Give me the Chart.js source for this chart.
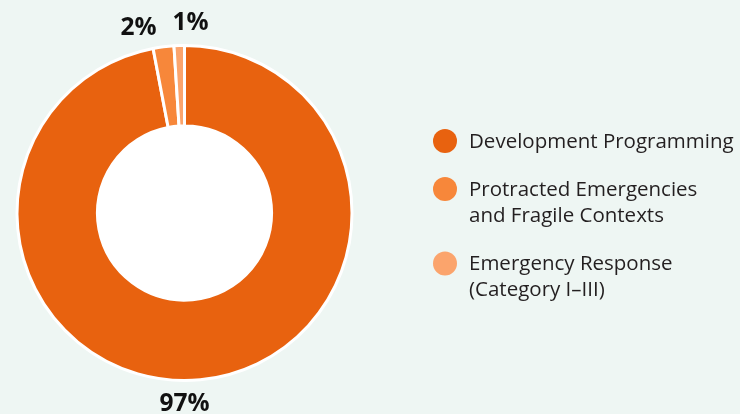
<!DOCTYPE html>
<html>
<head>
<meta charset="utf-8">
<script src="https://cdn.jsdelivr.net/npm/chart.js@4/dist/chart.umd.min.js"></script>
<style>
  html, body { margin: 0; padding: 0; background: #EEF6F3; }
  #wrap { width: 740px; height: 414px; position: relative; }
</style>
</head>
<body>
<div id="wrap"><canvas id="c" width="740" height="414"></canvas></div>
<script>
// Share of funding by programme type (percent)
const categories = [
  ['Development Programming'],
  ['Protracted Emergencies', 'and Fragile Contexts'],
  ['Emergency Response', '(Category I\u2013III)']
];
const shares = [97, 2, 1];
const sliceColors = ['#E8620F', '#F7873A', '#FBA46C'];

const FONT = '"Open Sans", "Noto Sans", sans-serif';

// White hole in the middle of the ring
const holeFill = {
  id: 'holeFill',
  beforeDatasetsDraw(chart) {
    const arc = chart.getDatasetMeta(0).data[0];
    if (!arc) return;
    const { x, y, innerRadius } = arc.getProps(['x', 'y', 'innerRadius'], true);
    const ctx = chart.ctx;
    ctx.save();
    ctx.fillStyle = '#FFFFFF';
    ctx.beginPath();
    ctx.arc(x, y, innerRadius + 1, 0, Math.PI * 2);
    ctx.fill();
    ctx.restore();
  }
};

// Percentage labels around the ring
const valueLabels = {
  id: 'valueLabels',
  afterDatasetsDraw(chart) {
    const meta = chart.getDatasetMeta(0);
    const arc0 = meta.data[0];
    const { x: cx, y: cy, outerRadius: r } = arc0.getProps(['x', 'y', 'outerRadius'], true);
    // anchor of each label relative to the ring centre
    const anchors = [
      [cx, cy + r + 24],
      [cx - 46, cy - r - 17],
      [cx + 6, cy - r - 22]
    ];
    const ctx = chart.ctx;
    ctx.save();
    ctx.fillStyle = '#111111';
    ctx.font = 'bold 24.5px ' + FONT;
    ctx.textAlign = 'center';
    ctx.textBaseline = 'middle';
    chart.data.datasets[0].data.forEach((v, i) => {
      ctx.fillText(v + '%', anchors[i][0], anchors[i][1]);
    });
    ctx.restore();
  }
};

// Legend on the right: dot + wrapped label
const sideLegend = {
  id: 'sideLegend',
  afterDraw(chart) {
    const ctx = chart.ctx;
    const colors = chart.data.datasets[0].backgroundColor;
    const dotX = 445, textX = 469, lineH = 26;
    const rowY = [141, 189, 263.5];
    ctx.save();
    ctx.font = '20.5px ' + FONT;
    ctx.textAlign = 'left';
    ctx.textBaseline = 'middle';
    chart.data.labels.forEach((lines, i) => {
      ctx.fillStyle = colors[i];
      ctx.beginPath();
      ctx.arc(dotX, rowY[i], 12, 0, Math.PI * 2);
      ctx.fill();
      ctx.fillStyle = '#231F20';
      lines.forEach((t, j) => ctx.fillText(t, textX, rowY[i] + j * lineH + 1));
    });
    ctx.restore();
  }
};

new Chart(document.getElementById('c'), {
  type: 'doughnut',
  data: {
    labels: categories,
    datasets: [{
      data: shares,
      backgroundColor: sliceColors,
      borderColor: '#FFFFFF',
      borderWidth: 3,
      hoverOffset: 0
    }]
  },
  options: {
    responsive: false,
    animation: false,
    cutout: '52%',
    layout: { padding: { left: 15, right: 386, top: 44, bottom: 32 } },
    plugins: {
      legend: { display: false },
      tooltip: { enabled: false }
    }
  },
  plugins: [holeFill, valueLabels, sideLegend]
});
</script>
</body>
</html>
